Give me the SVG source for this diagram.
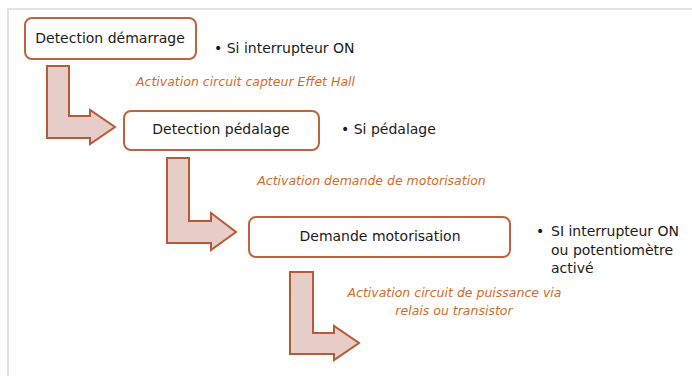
<svg xmlns="http://www.w3.org/2000/svg" width="692" height="376" viewBox="0 0 692 376">
<style>
.frame{stroke:#d9d9d9;stroke-width:1.5;fill:none}
.box{fill:#ffffff;stroke:#c0633a;stroke-width:2}
.arrow{fill:#e7cdc8;stroke:#b85a38;stroke-width:2;stroke-linejoin:miter}
.lbl{font-family:"DejaVu Sans",sans-serif;font-size:14px;fill:#1a1a1a}
.bul{font-family:"DejaVu Sans",sans-serif;font-size:14px;fill:#1a1a1a}
.act{font-family:"DejaVu Sans",sans-serif;font-style:italic;font-size:12.5px;fill:#d26b2a}
</style>
<rect width="692" height="376" fill="#ffffff"/>
<path class="frame" d="M8,376 V9 H692"/>
<g id="connectors">
<path class="arrow" d="M47,66 H69 V116 H90 V110 L115,127 L90,144 V138 H47 Z"/>
<path class="arrow" d="M167,158 H189 V221 H211 V213 L236,232 L211,250 V243 H167 Z"/>
<path class="arrow" d="M290,272 H313 V333 H334 V326 L359,343 L334,360 V354 H290 Z"/>
</g>
<g id="node1">
<rect class="box" x="25" y="18" width="171" height="41" rx="7"/>
<text class="lbl" x="110" y="43" text-anchor="middle">Detection démarrage</text>
</g>
<g id="node2">
<rect class="box" x="124" y="111" width="195" height="39" rx="7"/>
<text class="lbl" x="221" y="134" text-anchor="middle">Detection pédalage</text>
</g>
<g id="node3">
<rect class="box" x="249" y="217" width="261" height="40" rx="7"/>
<text class="lbl" x="380" y="241" text-anchor="middle">Demande motorisation</text>
</g>
<g id="notes">
<text class="bul" x="214" y="53">• Si interrupteur ON</text>
<text class="bul" x="341" y="134">• Si pédalage</text>
<text class="bul" x="536" y="236">•</text>
<text class="bul" x="551" y="236">SI interrupteur ON</text>
<text class="bul" x="551" y="255">ou potentiomètre</text>
<text class="bul" x="551" y="273">activé</text>
<text class="act" x="245.5" y="86" text-anchor="middle">Activation circuit capteur Effet Hall</text>
<text class="act" x="371.5" y="185" text-anchor="middle">Activation demande de motorisation</text>
<text class="act" x="454.5" y="297" text-anchor="middle">Activation circuit de puissance via</text>
<text class="act" x="454" y="315" text-anchor="middle">relais ou transistor</text>
</g>
</svg>
